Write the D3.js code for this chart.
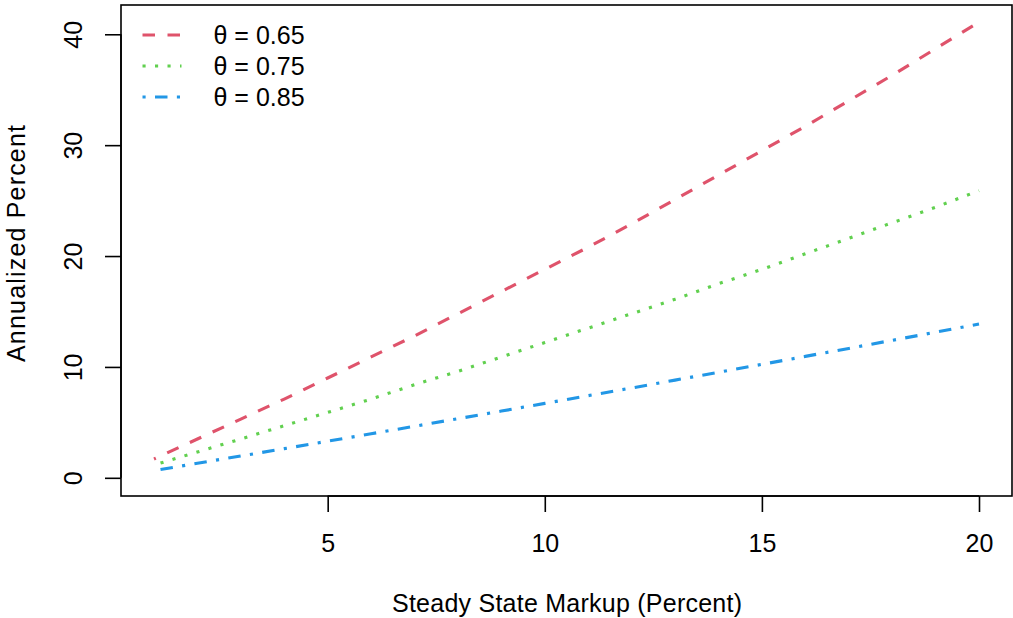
<!DOCTYPE html>
<html>
<head>
<meta charset="utf-8">
<script src="https://cdn.jsdelivr.net/npm/d3@7"></script>
<style>
  html, body { margin: 0; padding: 0; background: #fff; }
  svg text { font-family: "Liberation Sans", Arial, Helvetica, sans-serif; fill: #000; }
</style>
</head>
<body>
<svg id="chart" width="1013" height="618"></svg>
<script>
// ---- data ----
const markupRed = [1, 2, 3, 4, 5, 6, 7, 8, 9, 10, 11, 12, 13, 14, 15, 16, 17, 18, 19, 20];
const annual065 = [1.7, 3.5, 5.3, 7.1, 9.0, 10.9, 12.8, 14.8, 16.8, 18.8, 20.8, 22.9, 25.1, 27.3, 29.5, 31.7, 34.0, 36.3, 38.7, 41.1];
const markupOther = [1.15, 2, 3, 4, 5, 6, 7, 8, 9, 10, 11, 12, 13, 14, 15, 16, 17, 18, 19, 20];
const annual075 = [1.33, 2.33, 3.5, 4.7, 5.9, 7.1, 8.4, 9.6, 10.9, 12.2, 13.5, 14.8, 16.1, 17.5, 18.8, 20.2, 21.6, 23.0, 24.4, 25.9];
const annual085 = [0.75, 1.31, 1.97, 2.63, 3.3, 3.97, 4.65, 5.33, 6.02, 6.71, 7.41, 8.1, 8.81, 9.52, 10.23, 10.95, 11.67, 12.4, 13.13, 13.87];
const xTicks = [5, 10, 15, 20];
const yTicks = [0, 10, 20, 30, 40];
const seriesNames = ["θ = 0.65", "θ = 0.75", "θ = 0.85"];
const xTitle = "Steady State Markup (Percent)";
const yTitle = "Annualized Percent";

// ---- styles ----
const colors = ["#DF536B", "#61D04F", "#2297E6"];
const dashes = ["12.5,12.5", "3.125,9.375", "3.125,9.375,12.5,9.375"];
const dashOffsets = [10.5, 0, 12.5];
const lw = 3.125;
const fontSize = 25;

const box = { left: 121, right: 1012, top: 5, bottom: 496 };
const svg = d3.select("#chart");

// R-style 4% extension of ranges
const xMin = 1, xMax = 20, yMin = 0, yMax = 41;
const xr = xMax - xMin, yr = yMax - yMin;
const x = d3.scaleLinear().domain([xMin - 0.04 * xr, xMax + 0.04 * xr]).range([box.left, box.right]);
const y = d3.scaleLinear().domain([yMin - 0.04 * yr, yMax + 0.04 * yr]).range([box.bottom, box.top]);

svg.append("clipPath").attr("id", "plotclip").append("rect")
  .attr("x", box.left).attr("y", box.top)
  .attr("width", box.right - box.left).attr("height", box.bottom - box.top);

const series = [
  { xs: markupRed, ys: annual065 },
  { xs: markupOther, ys: annual075 },
  { xs: markupOther, ys: annual085 }
];

const line = d3.line().x(d => x(d[0])).y(d => y(d[1]));
const gLines = svg.append("g").attr("clip-path", "url(#plotclip)");
series.forEach((s, i) => {
  const pts = s.xs.map((v, k) => [v, s.ys[k]]);
  gLines.append("path")
    .attr("d", line(pts))
    .attr("fill", "none")
    .attr("stroke", colors[i])
    .attr("stroke-width", lw)
    .attr("stroke-dasharray", dashes[i])
    .attr("stroke-dashoffset", dashOffsets[i])
    .attr("stroke-linecap", "butt");
});

// box
svg.append("rect")
  .attr("x", box.left).attr("y", box.top)
  .attr("width", box.right - box.left).attr("height", box.bottom - box.top)
  .attr("fill", "none").attr("stroke", "#000").attr("stroke-width", 1.6);

// x axis
const xAxis = d3.axisBottom(x).tickValues(xTicks).tickSize(16).tickFormat(d3.format("d"));
const gx = svg.append("g").attr("transform", `translate(0,${box.bottom})`).call(xAxis);
gx.select(".domain").attr("d", `M${x(xTicks[0])},0H${x(xTicks[xTicks.length - 1])}`).attr("stroke-width", 1.6);
gx.selectAll(".tick line").attr("stroke-width", 1.6);
gx.selectAll(".tick text").attr("font-size", fontSize).attr("font-family", "Liberation Sans, Arial, sans-serif")
  .attr("dy", null).attr("y", 56).attr("fill", "#000");

// y axis
const yAxis = d3.axisLeft(y).tickValues(yTicks).tickSize(16).tickFormat(d3.format("d"));
const gy = svg.append("g").attr("transform", `translate(${box.left},0)`).call(yAxis);
gy.select(".domain").attr("d", `M0,${y(yTicks[0])}V${y(yTicks[yTicks.length - 1])}`).attr("stroke-width", 1.6);
gy.selectAll(".tick line").attr("stroke-width", 1.6);
gy.selectAll(".tick text")
  .attr("font-size", fontSize).attr("font-family", "Liberation Sans, Arial, sans-serif")
  .attr("x", null).attr("dy", null)
  .attr("text-anchor", "middle")
  .attr("transform", "translate(-39,0) rotate(-90)")
  .attr("fill", "#000");

// axis titles
svg.append("text")
  .attr("x", 567).attr("y", 612)
  .attr("text-anchor", "middle").attr("font-size", fontSize)
  .attr("textLength", 350).attr("lengthAdjust", "spacing")
  .text(xTitle);
svg.append("text")
  .attr("transform", `translate(24.5,243.5) rotate(-90)`)
  .attr("text-anchor", "middle").attr("font-size", fontSize)
  .attr("textLength", 237).attr("lengthAdjust", "spacing")
  .text(yTitle);

// legend
const legY = [35, 66, 97];
const legBase = [44, 75, 106];
const leg = svg.append("g");
seriesNames.forEach((name, i) => {
  leg.append("line")
    .attr("x1", 142.5).attr("x2", 181.5)
    .attr("y1", legY[i]).attr("y2", legY[i])
    .attr("stroke", colors[i]).attr("stroke-width", lw)
    .attr("stroke-dasharray", dashes[i]).attr("stroke-linecap", "butt");
  leg.append("text")
    .attr("x", 213.5).attr("y", legBase[i])
    .attr("font-size", fontSize)
    .text(name);
});
</script>
</body>
</html>
